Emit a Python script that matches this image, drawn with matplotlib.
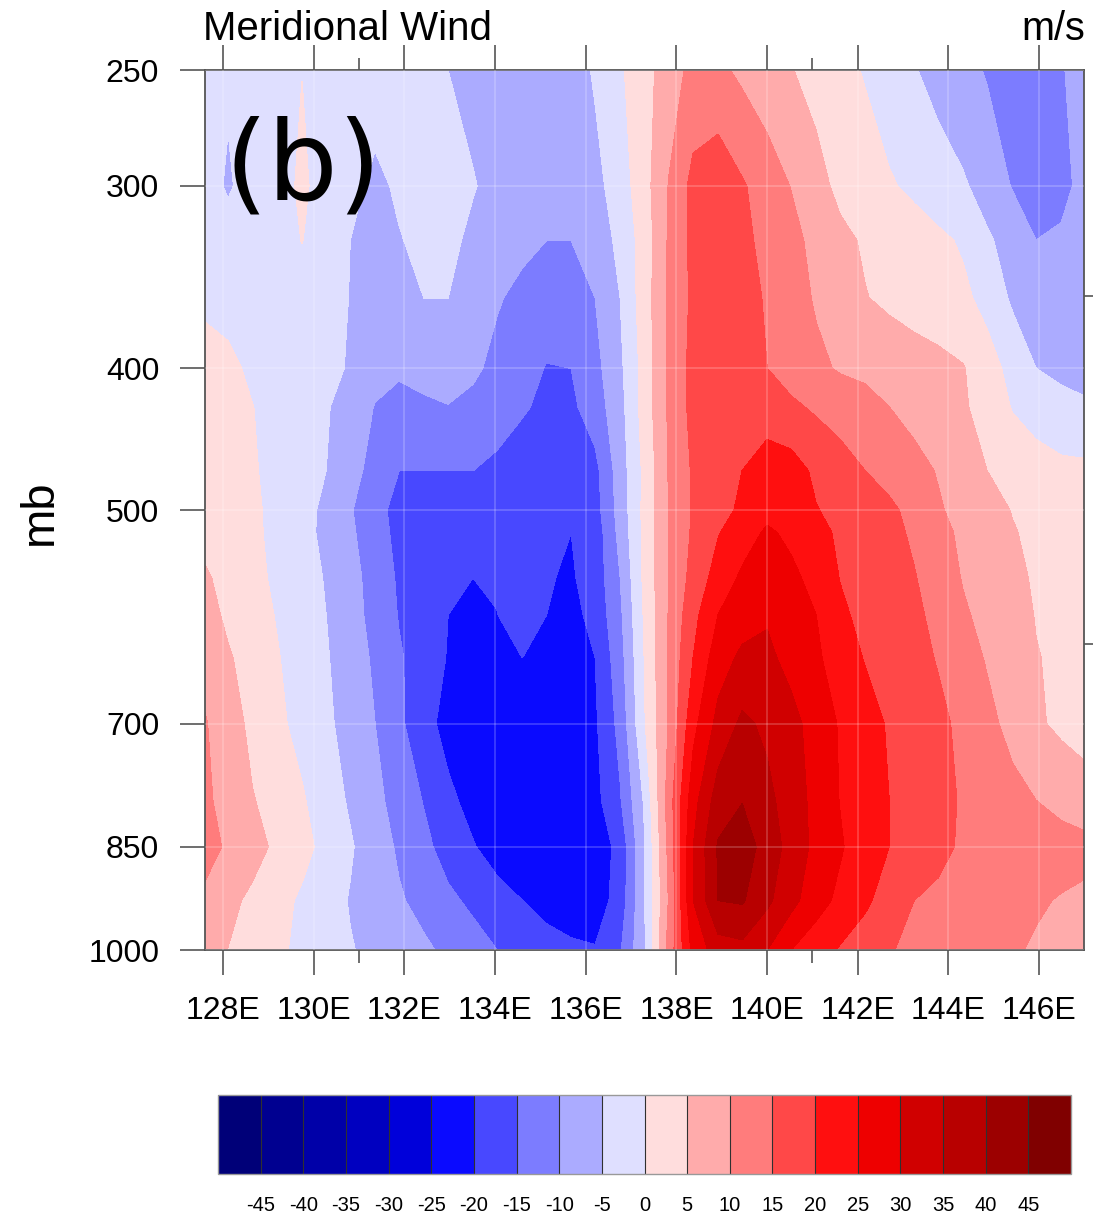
import numpy as np
import matplotlib
matplotlib.use("Agg")
import matplotlib.pyplot as plt
from matplotlib.colors import ListedColormap, BoundaryNorm

W, H = 1093, 1218

lon = [127.60, 128.11, 128.64, 129.19, 129.74, 130.27, 130.80, 131.35, 131.88, 132.43,
       132.96, 133.51, 134.04, 134.60, 135.13, 135.68, 136.21, 136.76, 137.29, 137.84,
       138.37, 138.92, 139.45, 140.00, 140.53, 141.08, 141.61, 142.16, 142.69, 143.24,
       143.77, 144.32, 144.85, 145.41, 145.93, 146.49, 146.99]

lev = [250, 300, 327, 358, 400, 425, 470, 500, 518, 556, 590, 631, 700, 790, 850, 925, 1000]

# m/s, une ligne par niveau de pression
wind = [
    [-3, -4.4, -3, -3, -0.1, -3, -3, -3.3, -3.6, -4, -5, -6, -7, -7.5, -8, -7.5, -4.4, -0.7, 3.2, 7.5,
     11.5, 11, 9, 7, 5.2, 3.3, 1.5, -0.4, -2.5, -4.7, -6.6, -8.5, -10.4, -11.5, -11.5, -10.3, -8.5],
    [-3, -5.6, -3, -2.5, 1, -2.5, -4, -5.8, -4.5, -3.8, -3.5, -4.8, -6, -7, -7.5, -8, -6.5, -2.5, 3, 10.3,
     16.5, 18.5, 15.5, 12.7, 9.8, 6.7, 3.7, 2.4, 0.5, -1, -2.8, -4.4, -7, -10.3, -12, -11, -9],
    [-3, -3, -2.5, -2.2, 0.1, -2.5, -5, -5.7, -5.2, -4.2, -4.2, -5.7, -7.2, -8.7, -10, -10, -8.5, -3.5, 2, 10.7,
     16.3, 17.5, 16, 13.8, 11.5, 8.5, 6.2, 4.4, 3.3, 2.2, 1, -0.6, -4.3, -7, -10, -9.5, -8.7],
    [-1, -1.5, -2, -2, -2, -2.5, -5.2, -6, -5.8, -5, -5, -7.2, -9.5, -11.5, -12.8, -13, -10, -5, 2.5, 10.7,
     16, 17.5, 16.8, 14.5, 12, 9.5, 7.4, 5.2, 4, 3, 2, 1, -1.5, -5.8, -7, -8, -8.5],
    [2, 1, -0.8, -1.7, -2.2, -3.2, -5.6, -8.6, -9.4, -8, -7.5, -9, -11.5, -13.5, -15.2, -15, -11.5, -6, 1.8, 11,
     16.5, 18.5, 17.5, 15, 13, 11, 9.5, 9, 8.2, 7.2, 6.5, 5.3, 2, -1.5, -5, -6.5, -7.5],
    [2.5, 1.5, 0.1, -1.5, -3, -4.5, -7.5, -10.2, -11.3, -11, -10.2, -11.5, -13, -14.6, -15.8, -16, -12.5, -6.7, 2, 10.8,
     16.5, 18, 18.5, 17.3, 15.8, 14.3, 13, 11.5, 10, 8.5, 7.3, 5.6, 3, -0.3, -1.5, -3, -4],
    [3, 2, 0.5, -1.5, -3.3, -5, -8.5, -11.5, -15, -15, -15, -15, -16, -17, -18, -18.7, -16.5, -7.5, 1, 10.4,
     15.6, 17.7, 20, 22.7, 22.2, 19, 17, 15, 13.2, 11.5, 9.7, 7.3, 5, 3, 1.5, 1, 1],
    [3, 2.5, 1, -1.5, -3.5, -6, -9.5, -14, -16, -16, -16.5, -17, -17.5, -18, -18.8, -19.4, -17, -8, 1.2, 10.3,
     15.5, 18, 21, 23.5, 22.5, 20.2, 18.7, 17.5, 16, 13.5, 10.5, 8.5, 6.7, 4.8, 3.5, 3, 3],
    [3.7, 2.7, 1, -1.3, -3.7, -6, -9, -13.5, -16, -16.5, -17, -17.5, -18, -18.5, -19, -20, -18, -8.5, 1.2, 10.3,
     15.7, 19.7, 22.7, 25.7, 24, 21.3, 19.3, 18, 16.5, 14.2, 11.6, 9, 7, 5.3, 4, 3.5, 3.5],
    [5.5, 3.7, 1.5, -1, -3.3, -5.3, -8.3, -12, -15.7, -18, -19.3, -20, -19.5, -19.5, -19.7, -20.5, -18, -10, 1, 10.3,
     16.7, 22, 25.8, 27.7, 26, 23.5, 19.8, 18, 17, 15.3, 12.5, 9.7, 8, 6, 4.5, 4, 3.5],
    [7, 4, 2, -0.3, -3, -5, -8.2, -11.5, -15.3, -18.5, -20, -20.5, -20.1, -18.2, -20, -21.5, -18.5, -11, 0.5, 10.4,
     18.5, 25, 27.8, 29.5, 27.5, 25, 21, 18.5, 17.3, 16, 13.7, 10.6, 8.7, 6.7, 4.8, 4.2, 3.7],
    [8.5, 5.5, 3, 0.3, -2.2, -4.6, -7.5, -10.8, -14.5, -17.3, -20.3, -21.5, -21, -20, -21, -21.7, -20, -12, 0, 10.7,
     20, 27.7, 31, 31, 28.5, 25.8, 22.5, 19.7, 18, 16.4, 14.7, 12, 9.6, 7, 5.2, 4.2, 3.7],
    [10.3, 7.5, 3.7, 1, -1.5, -4, -7, -10, -14, -18.5, -21.5, -22.7, -23, -23, -23, -22.5, -20.7, -13.5, -0.5, 10.5,
     23.5, 31.5, 36, 34, 31.5, 28, 24.5, 22, 19.5, 17.8, 16, 14, 11.3, 8.5, 5.7, 4, 3],
    [11, 8, 5.3, 3, 0.5, -2.7, -5.6, -8.7, -12, -15.3, -19, -21.5, -22.5, -23, -23.5, -23.7, -21.5, -15.5, -4.5, 12.5,
     28, 37.5, 39.8, 36.3, 32.5, 28.5, 24.8, 22.3, 20, 18, 16.5, 14.5, 12.8, 11.5, 10, 8.7, 7.3],
    [12.5, 9, 6.8, 4, 1.5, -1.5, -4.5, -7.7, -10.7, -13.8, -17, -19.7, -22, -23, -24, -24.5, -23, -18.5, -5.5, 11.5,
     30, 40.5, 42.5, 38, 33, 28.7, 25.5, 22.3, 20, 18.5, 16.3, 14.3, 13.5, 12.5, 12, 11.7, 11.5],
    [8.5, 6.2, 4, 1.7, -0.8, -3, -5.3, -7.5, -9.5, -11.5, -14, -16, -18.2, -20, -21.7, -23, -22.5, -18, -5.5, 10.5,
     30, 40, 40.5, 36, 31.5, 27, 23.8, 21, 17.5, 15, 14, 13, 12, 11.2, 10.5, 9.7, 9],
    [6.5, 4.9, 3.2, 0.8, -1, -2.8, -4.7, -6.2, -7.7, -9.2, -11, -13, -15, -16.7, -18, -19, -19.7, -15.5, -5.8, 12,
     26.5, 32.5, 33.5, 30, 25, 22, 19.5, 17, 15.3, 14, 13, 12, 11.2, 10.5, 9.5, 8.8, 8.2],
]

bar_levels = [-45, -40, -35, -30, -25, -20, -15, -10, -5, 0, 5, 10, 15, 20, 25, 30, 35, 40, 45]
bar_colors = ['#000078', '#000090', '#0000A8', '#0000C0', '#0000DA', '#0A0AFF', '#4848FF', '#7C7CFF',
              '#ABABFF', '#DFDFFF', '#FFDDDD', '#FFABAB', '#FF7C7C', '#FF4848', '#FF0F0F', '#EE0000',
              '#D00000', '#B80000', '#9C0000', '#800000']

p_ticks = [250, 300, 400, 500, 700, 850, 1000]
right_ticks = [357, 618]
lon_ticks = [128, 130, 132, 134, 136, 138, 140, 142, 144, 146]
lon_minor = [131, 141]

plt.rcParams['font.family'] = ['Liberation Sans', 'DejaVu Sans']
EDGE = '#555555'


def box(x0, y0, x1, y1):
    # pixels de l'image vers coordonnees figure
    return [x0 / W, 1 - y1 / H, (x1 - x0) / W, (y1 - y0) / H]


fig = plt.figure(figsize=(W / 100, H / 100), dpi=100)
ax = fig.add_axes(box(205, 70, 1084, 950))

cmap = ListedColormap(bar_colors[1:-1])
cmap.set_under(bar_colors[0])
cmap.set_over(bar_colors[-1])
norm = BoundaryNorm(bar_levels, cmap.N)
cf = ax.contourf(lon, lev, np.array(wind), levels=bar_levels, cmap=cmap, norm=norm, extend='both')
cf.set_edgecolor('face')
cf.set_linewidth(0.3)

ax.set_yscale('log')
ax.set_xlim(127.6, 146.99)
ax.set_ylim(1000, 250)
ax.set_yticks(p_ticks)
ax.set_yticklabels([str(p) for p in p_ticks])
ax.yaxis.set_minor_locator(matplotlib.ticker.NullLocator())
ax.set_xticks(lon_ticks)
ax.set_xticklabels([f"{v}E" for v in lon_ticks])
ax.set_xticks(lon_minor, minor=True)

ax.grid(True, which='major', color='white', alpha=0.22, lw=1.2)
ax.set_axisbelow(False)
ax.tick_params(axis='x', which='major', top=True, direction='out', length=18, width=1.2,
               color=EDGE, labelsize=23, pad=15)
ax.tick_params(axis='x', which='minor', top=True, direction='out', length=9, width=1.2, color=EDGE)
ax.tick_params(axis='y', which='major', direction='out', length=18, width=1.2,
               color=EDGE, labelsize=23, pad=15)
for s in ax.spines.values():
    s.set_color(EDGE)
    s.set_linewidth(1.3)

ax2 = ax.twinx()
ax2.set_yscale('log')
ax2.set_ylim(1000, 250)
ax2.set_yticks(right_ticks)
ax2.set_yticklabels([])
ax2.yaxis.set_minor_locator(matplotlib.ticker.NullLocator())
ax2.tick_params(axis='y', which='major', direction='out', length=7, width=1.2, color=EDGE)
for s in ax2.spines.values():
    s.set_visible(False)

fig.text(203 / W, 1 - 40 / H, "Meridional Wind", fontsize=29, ha='left', va='baseline')
fig.text(1085 / W, 1 - 40 / H, "m/s", fontsize=28.5, ha='right', va='baseline')
fig.text(40 / W, 1 - 512 / H, "mb", fontsize=34, rotation=90, ha='center', va='center')
fig.text(224 / W, 1 - 200 / H, "(b)", fontsize=80, family='DejaVu Sans', ha='left', va='baseline')

cax = fig.add_axes(box(218, 1095, 1071, 1174))
cb = fig.colorbar(cf, cax=cax, orientation='horizontal', extendrect=True, extendfrac='auto',
                  spacing='uniform', drawedges=True)
cb.set_ticks(bar_levels)
cb.set_ticklabels([str(v) for v in bar_levels])
cb.ax.tick_params(length=0, labelsize=14.5, pad=16)
cb.ax.minorticks_off()
cb.dividers.set_color('#303030')
cb.dividers.set_linewidth(0.8)
cb.outline.set_edgecolor('#999999')
cb.outline.set_linewidth(1)

fig.savefig("out.png", dpi=100)
